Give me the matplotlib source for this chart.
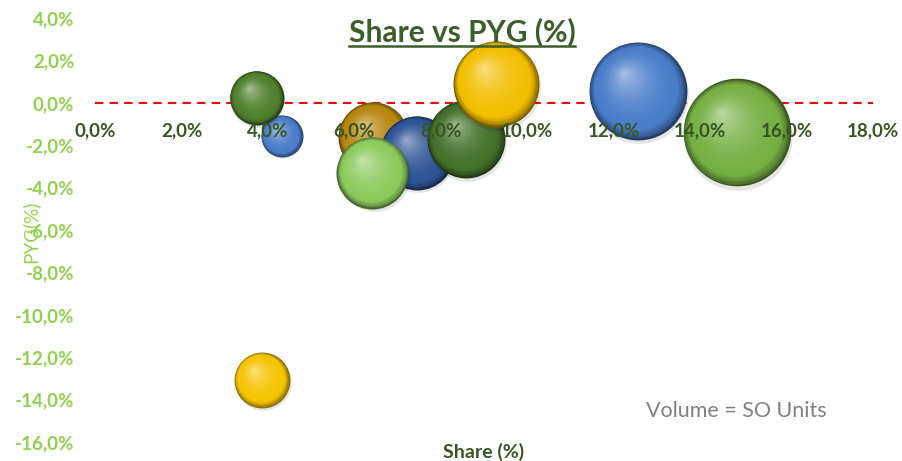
import matplotlib.pyplot as plt
import numpy as np
from matplotlib.colors import to_rgb
from matplotlib.transforms import ScaledTranslation
from matplotlib.lines import Line2D

plt.rcParams['font.family'] = ['Lato', 'DejaVu Sans']

# data (share %, PYG %, volume = SO units, relative)
share = [3.74, 4.32, 6.44, 7.44, 8.58, 6.42, 9.28, 12.56, 14.85, 3.86]
pyg = [0.24, -1.56, -1.60, -2.36, -1.70, -3.30, 0.90, 0.57, -1.40, -13.07]
volume = [730, 440, 1225, 1370, 1520, 1300, 1850, 2400, 2900, 780]
colors = ["#4F7F2E", "#4A7DC9", "#B8870F", "#2F5597", "#44702A",
          "#8BCB5C", "#F2BE00", "#4A7DC9", "#76B043", "#F5C400"]
# bottom-to-top drawing order
order = [1, 0, 2, 3, 4, 6, 5, 7, 8, 9]

xticks = np.arange(0, 18.1, 2)
yticks = np.arange(-16, 4.1, 2)
TICK_X = "#375623"
TICK_Y = "#92D050"

fig = plt.figure(figsize=(9.02, 4.61), dpi=100)
ax = fig.add_axes([95/902, 19/461, 778/902, 424/461])
ax.set_xlim(0, 18)
ax.set_ylim(-16, 4)

ax.axhline(0, color="#FF0000", linestyle=(0, (4, 3)), linewidth=1.5, zorder=0.5)


def pct(v):
    return f"{v:.1f}%".replace('.', ',')


def sphere(x, y, s, color):
    rgb = np.array(to_rgb(color))
    dark = rgb * 0.5
    light = rgb + (1 - rgb) * 0.5
    r_in = np.sqrt(s) / 2 / 72.0
    sh = ax.transData + ScaledTranslation(r_in * 0.03, -r_in * 0.07, fig.dpi_scale_trans)
    ax.scatter([x], [y], s=s * 1.02, color="black", alpha=0.10, linewidths=0,
               transform=sh, zorder=1)
    n = 36
    for k in range(n):
        f = 1 - k / n
        t = k / (n - 1)
        if t < 0.15:
            c = dark + (rgb - dark) * (t / 0.15) ** 0.7
        else:
            c = rgb + (light - rgb) * ((t - 0.15) / 0.85) ** 1.8
        off = (1 - f) * r_in
        tr = ax.transData + ScaledTranslation(-0.3 * off, 0.38 * off, fig.dpi_scale_trans)
        ax.scatter([x], [y], s=s * f ** 2, color=np.clip(c, 0, 1), linewidths=0,
                   transform=tr, zorder=1)


for i in order:
    sphere(share[i], pyg[i], volume[i] * 2.07, colors[i])

ax.set_axisbelow(False)
for sp in ['top', 'right', 'left']:
    ax.spines[sp].set_visible(False)
ax.spines['bottom'].set_position(('data', 0))
ax.spines['bottom'].set_visible(False)

ax.set_xticks(xticks)
ax.set_xticklabels([pct(v) for v in xticks], color=TICK_X, fontsize=13.5, fontweight='bold')
ax.set_yticks(yticks)
ax.set_yticklabels([pct(v) for v in yticks], color=TICK_Y, fontsize=13.5, fontweight='bold')
ax.tick_params(axis='x', length=0, pad=14)
ax.tick_params(axis='y', length=0, pad=15)

fig.text(30/902, 1 - 232/461, "PYG(%)", rotation=90, color=TICK_Y, fontsize=13.5,
         ha='center', va='center')
fig.text(484/902, 1 - 452/461, "Share (%)", color=TICK_X, fontsize=14,
         fontweight='bold', ha='center', va='center')
fig.text(736/902, 1 - 411/461, "Volume = SO Units", color="#808080", fontsize=15.5,
         ha='center', va='center')

title = fig.text(462/902, 1 - 32/461, "Share vs PYG (%)", color="#3B5E2B", fontsize=21.5,
                 fontweight='bold', ha='center', va='center')
fig.canvas.draw()
bb = title.get_window_extent().transformed(fig.transFigure.inverted())
fig.add_artist(Line2D([bb.x0, bb.x1], [bb.y0 + 0.002, bb.y0 + 0.002],
                      transform=fig.transFigure, color="#3B5E2B", linewidth=1.8))

fig.savefig("out.png", dpi=100)
